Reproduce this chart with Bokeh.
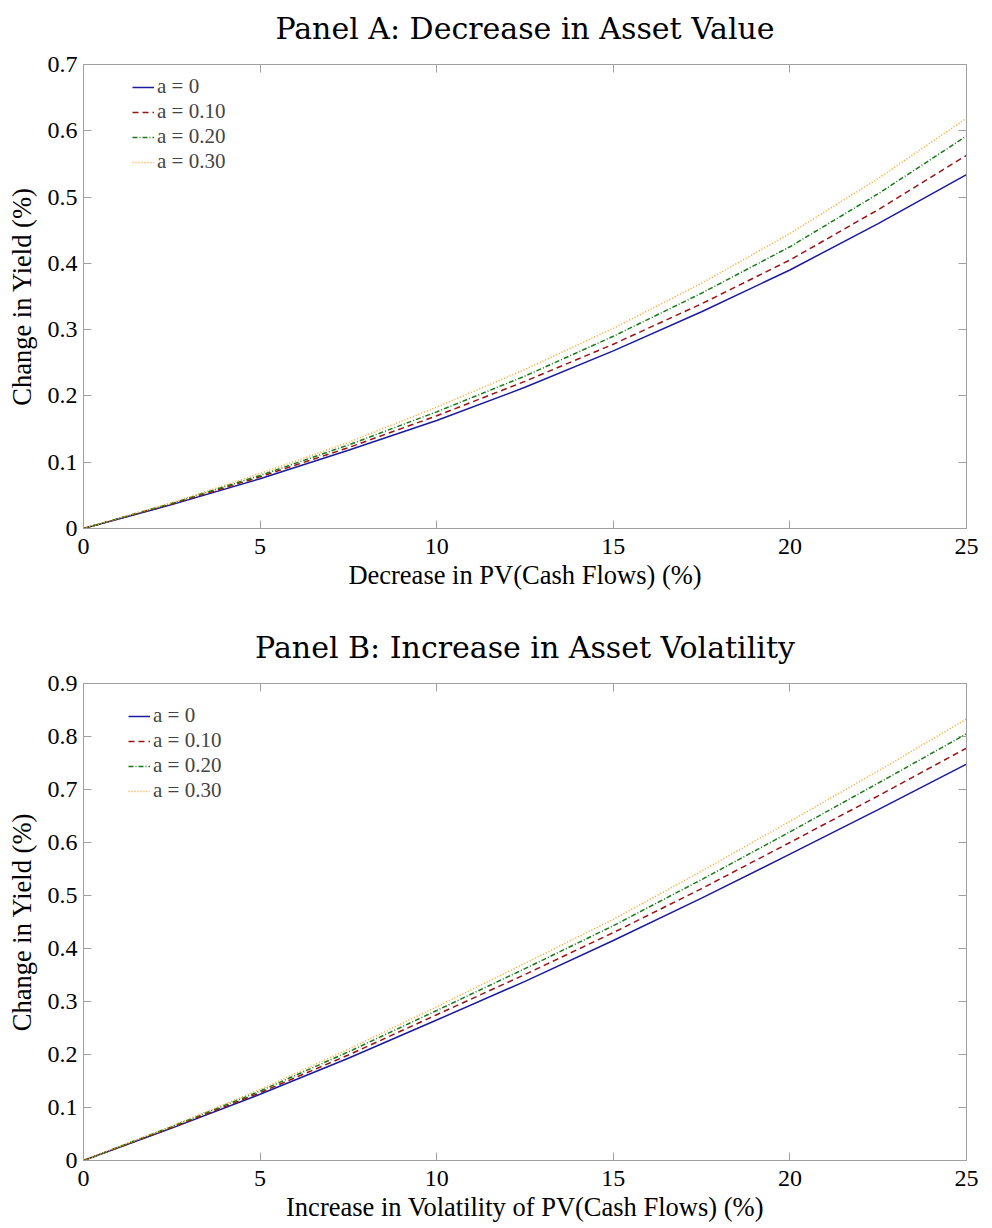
from bokeh.plotting import figure
from bokeh.models import (LinearAxis, Legend, LegendItem, FixedTicker, Range1d,
                          CustomLabelingPolicy)
from bokeh.layouts import column
from bokeh.embed import file_html
from bokeh.resources import INLINE

# ---------------- data ----------------
x_pct = [0, 2.5, 5, 7.5, 10, 12.5, 15, 17.5, 20, 22.5, 25]
series_labels = ["a = 0", "a = 0.10", "a = 0.20", "a = 0.30"]

# Panel A: Decrease in Asset Value
a_a0 = [0, 0.036, 0.075, 0.118, 0.163, 0.213, 0.268, 0.327, 0.390, 0.460, 0.534]
a_a10 = [0, 0.037, 0.078, 0.122, 0.170, 0.222, 0.278, 0.339, 0.405, 0.481, 0.563]
a_a20 = [0, 0.038, 0.080, 0.126, 0.176, 0.230, 0.290, 0.355, 0.425, 0.505, 0.592]
a_a30 = [0, 0.039, 0.083, 0.130, 0.183, 0.240, 0.302, 0.370, 0.445, 0.528, 0.619]

# Panel B: Increase in Asset Volatility
b_a0 = [0, 0.061, 0.125, 0.193, 0.265, 0.338, 0.415, 0.495, 0.578, 0.662, 0.748]
b_a10 = [0, 0.062, 0.128, 0.199, 0.275, 0.351, 0.430, 0.513, 0.600, 0.688, 0.778]
b_a20 = [0, 0.064, 0.131, 0.205, 0.283, 0.362, 0.443, 0.530, 0.620, 0.712, 0.805]
b_a30 = [0, 0.065, 0.134, 0.210, 0.290, 0.372, 0.455, 0.546, 0.640, 0.735, 0.833]

x_ticks = [0, 5, 10, 15, 20, 25]
a_y_ticks = [0, 0.1, 0.2, 0.3, 0.4, 0.5, 0.6, 0.7]
a_y_labels = ["0", "0.1", "0.2", "0.3", "0.4", "0.5", "0.6", "0.7"]
b_y_ticks = [0, 0.1, 0.2, 0.3, 0.4, 0.5, 0.6, 0.7, 0.8, 0.9]
b_y_labels = ["0", "0.1", "0.2", "0.3", "0.4", "0.5", "0.6", "0.7", "0.8", "0.9"]

# ---------------- styles ----------------
COLORS = ["#1a1a9c", "#9a1212", "#177a17", "#ffa020"]
DASHES = ["solid", "6 4", "5 2 1 2", "1 2"]
GRAY = "#a0a0a0"
SERIF = "Liberation Serif"

NO_LABELS = "return new Set()"


def style_axis(ax, show_labels):
    ax.axis_line_color = GRAY
    ax.major_tick_line_color = GRAY
    ax.major_tick_in = 8
    ax.major_tick_out = 0
    ax.minor_tick_line_color = None
    if show_labels:
        ax.major_label_text_font = SERIF
        ax.major_label_text_font_size = "24px"
        ax.major_label_text_color = "black"
        ax.axis_label_text_font = SERIF
        ax.axis_label_text_font_size = "26.5px"
        ax.axis_label_text_font_style = "normal"
        ax.axis_label_text_color = "black"
    else:
        ax.major_label_policy = CustomLabelingPolicy(code=NO_LABELS)
        ax.major_label_standoff = 0


def make_panel(title, xlabel, ymax, yticks, ylabels, ys, height, top, bottom,
               legend_dx, legend_top):
    p = figure(width=984, height=height, output_backend="svg", toolbar_location=None,
               x_range=Range1d(0, 25), y_range=Range1d(0, ymax),
               min_border_left=83, min_border_right=8,
               min_border_top=top, min_border_bottom=bottom,
               x_axis_label=xlabel, y_axis_label="Change in Yield (%)")
    p.grid.visible = False
    p.outline_line_color = GRAY
    p.background_fill_color = "white"
    p.border_fill_color = "white"

    p.title.text = title
    p.title.align = "center"
    p.title.text_font = "DejaVu Serif"
    p.title.text_font_size = "30px"
    p.title.text_font_style = "normal"
    p.title.text_color = "black"
    p.title.standoff = 16

    xa = p.xaxis[0]
    ya = p.yaxis[0]
    xa.ticker = FixedTicker(ticks=x_ticks)
    ya.ticker = FixedTicker(ticks=yticks)
    ya.major_label_overrides = {t: l for t, l in zip(yticks, ylabels)}
    style_axis(xa, True)
    style_axis(ya, True)
    xa.major_label_standoff = 10
    xa.axis_label_standoff = 3
    ya.major_label_standoff = 6
    ya.axis_label_standoff = 8

    ra = LinearAxis(ticker=FixedTicker(ticks=yticks))
    ta = LinearAxis(ticker=FixedTicker(ticks=x_ticks))
    style_axis(ra, False)
    style_axis(ta, False)
    p.add_layout(ra, "right")
    p.add_layout(ta, "above")

    items = []
    for yv, c, d, lab in zip(ys, COLORS, DASHES, series_labels):
        r = p.line(x_pct, yv, line_color=c, line_dash=d, line_width=1.5)
        items.append(LegendItem(label=lab, renderers=[r]))

    frame_h = height - top - bottom
    leg_h = 94
    legend = Legend(items=items, location=(legend_dx, frame_h - legend_top - leg_h),
                    label_text_font=SERIF, label_text_font_size="21px",
                    glyph_width=22, glyph_height=22, label_height=22,
                    label_standoff=3, spacing=-2, padding=0, margin=0,
                    background_fill_alpha=0, border_line_alpha=0)
    p.add_layout(legend)
    return p


pa = make_panel("Panel A: Decrease in Asset Value", "Decrease in PV(Cash Flows) (%)",
                0.7, a_y_ticks, a_y_labels, [a_a0, a_a10, a_a20, a_a30],
                596, 52, 68, 49, 28)
pb = make_panel("Panel B: Increase in Asset Volatility",
                "Increase in Volatility of PV(Cash Flows) (%)",
                0.9, b_y_ticks, b_y_labels, [b_a0, b_a10, b_a20, b_a30],
                632, 87, 68, 45, 26)

layout = column(pa, pb, spacing=0)
open("out.html", "w").write(file_html(layout, INLINE))
